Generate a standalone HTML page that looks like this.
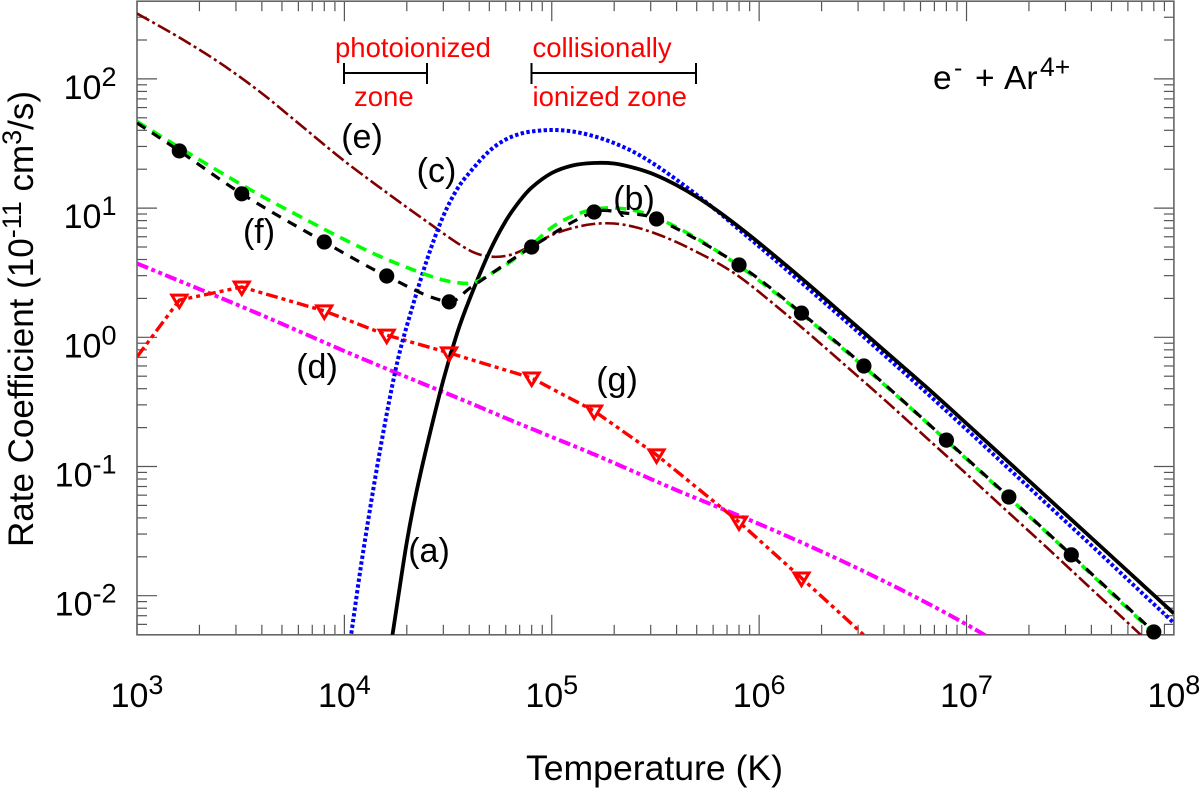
<!DOCTYPE html>
<html>
<head>
<meta charset="utf-8">
<title>Rate coefficient chart</title>
<style>
html,body{margin:0;padding:0;background:#fff;}
svg{display:block;font-family:"Liberation Sans",sans-serif;}
</style>
</head>
<body>
<svg id="chart" xmlns="http://www.w3.org/2000/svg" width="1200" height="789" viewBox="0 0 1200 789">
  <defs>
    <clipPath id="plot-clip"><rect x="137" y="1.2" width="1036.9" height="633.6"></rect></clipPath>
  </defs>
  <rect x="0" y="0" width="1200" height="789" fill="#ffffff"></rect>
  <g id="ticks"></g>
  <rect x="137" y="1.2" width="1036.9" height="633.6" fill="none" stroke="#666" stroke-width="1.6"></rect>
  <g id="series" clip-path="url(#plot-clip)" fill="none"></g>
  <g id="markers"></g>
  <g id="tick-labels" fill="#000"></g>

  <text x="654.5" y="780" font-size="35.6" text-anchor="middle" fill="#000">Temperature (K)</text>
  <text transform="translate(33,547) rotate(-90)" font-size="35" fill="#000"><tspan>Rate Coefficient (10</tspan><tspan font-size="27" dy="-12">-11</tspan><tspan dy="12"> cm</tspan><tspan font-size="27" dy="-12">3</tspan><tspan dy="12">/s)</tspan></text>

  <text x="429" y="562" font-size="34" text-anchor="middle">(a)</text>
  <text x="634" y="210" font-size="34" text-anchor="middle">(b)</text>
  <text x="436.5" y="182" font-size="34" text-anchor="middle">(c)</text>
  <text x="317" y="378" font-size="34" text-anchor="middle">(d)</text>
  <text x="362" y="148" font-size="34" text-anchor="middle">(e)</text>
  <text x="259" y="243" font-size="34" text-anchor="middle">(f)</text>
  <text x="617" y="391" font-size="34" text-anchor="middle">(g)</text>

  <text x="335" y="57" font-size="27.5" fill="#ff0000">photoionized</text>
  <text x="354" y="106" font-size="27.5" fill="#ff0000">zone</text>
  <text x="532.5" y="57" font-size="27.5" fill="#ff0000">collisionally</text>
  <text x="532.5" y="106" font-size="27.5" fill="#ff0000">ionized zone</text>

  <g stroke="#000" stroke-width="2" fill="none">
    <line x1="344" y1="73" x2="427" y2="73"></line>
    <line x1="344" y1="63" x2="344" y2="84"></line>
    <line x1="427" y1="63" x2="427" y2="84"></line>
  </g>
  <g stroke="#000" stroke-width="2" fill="none">
    <line x1="531.5" y1="73" x2="696" y2="73"></line>
    <line x1="531.5" y1="63" x2="531.5" y2="84"></line>
    <line x1="696" y1="63" x2="696" y2="84"></line>
  </g>

  <g fill="#000">
    <text x="933" y="89" font-size="33.5">e</text>
    <text x="954" y="76" font-size="25">-</text>
    <text x="975" y="89" font-size="33.5">+</text>
    <text x="1004" y="89" font-size="33.5">Ar</text>
    <text x="1040" y="76" font-size="26.5">4+</text>
  </g>
</svg>

<script>
// ---- axis data ----
var xTickValues = [1e3, 1e4, 1e5, 1e6, 1e7, 1e8];
var xTickExponents = ['3', '4', '5', '6', '7', '8'];
var yTickValues = [1e-2, 1e-1, 1, 10, 100];
var yTickExponents = ['-2', '-1', '0', '1', '2'];
var minorMultipliers = [2, 3, 4, 5, 6, 7, 8, 9];
var yDomain = [5e-3, 400];
var xDomain = [1e3, 1e8];

// ---- series data: temperature (K) and rate coefficient (1e-11 cm^3/s) ----
var tempsA = [1.7e4, 1.8e4, 2e4, 2.2e4, 2.5e4, 3e4, 3.5e4, 4e4, 5e4, 6e4, 7e4, 8e4, 1e5, 1.259e5, 1.585e5, 1.995e5, 2.512e5, 3.162e5, 3.981e5, 5.012e5, 6.31e5, 7.943e5, 1e6, 1.585e6, 2.512e6, 3.981e6, 6.31e6, 1e7, 1.585e7, 2.512e7, 3.981e7, 6.31e7, 1e8];
var ratesA = [0.00479, 0.00878, 0.026, 0.0581, 0.1441, 0.467, 1.08, 1.944, 4.57, 7.95, 11.35, 14.43, 18.69, 21.37, 22.34, 22.14, 20.43, 18.04, 15.1, 12.19, 9.5, 7.2, 5.37, 2.9, 1.528, 0.8, 0.42, 0.2152, 0.1093, 0.0555, 0.0282, 0.01433, 0.00728];

var tempsB = [1e3, 1.585e3, 2.512e3, 3.981e3, 6.31e3, 1e4, 1.585e4, 2.512e4, 3.13e4, 3.981e4, 4.467e4, 5.012e4, 6.31e4, 7.943e4, 1e5, 1.259e5, 1.585e5, 1.995e5, 2.512e5, 3.162e5, 3.981e5, 5.012e5, 6.31e5, 7.943e5, 1e6, 1.585e6, 2.512e6, 3.981e6, 6.31e6, 1e7, 1.585e7, 2.512e7, 3.981e7, 6.31e7, 1e8];
var ratesB = [46.8, 29.7, 19.03, 12.41, 8.38, 5.71, 4.04, 3.03, 2.73, 2.61, 2.75, 3.06, 3.83, 5.13, 7.08, 8.69, 9.75, 10.02, 9.58, 8.46, 7.14, 5.82, 4.61, 3.6, 2.75, 1.542, 0.826, 0.435, 0.225, 0.1143, 0.0581, 0.0295, 0.01472, 0.00735, 0.00367];

var tempsC = [1.05e4, 1.1e4, 1.2e4, 1.4e4, 1.6e4, 1.8e4, 2e4, 2.5e4, 3e4, 3.5e4, 4e4, 5e4, 6e4, 7e4, 8e4, 1e5, 1.259e5, 1.585e5, 1.995e5, 2.512e5, 3.162e5, 3.981e5, 5.012e5, 6.31e5, 7.943e5, 1e6, 1.585e6, 2.512e6, 3.981e6, 6.31e6, 1e7, 1.585e7, 2.512e7, 3.981e7, 6.31e7, 1e8];
var ratesC = [0.00374, 0.00626, 0.01668, 0.0772, 0.2549, 0.6439, 1.223, 3.966, 8.69, 14.06, 18.69, 27.67, 33.96, 37.46, 39.17, 40.22, 39.17, 36.15, 31.9, 26.94, 21.56, 16.65, 12.63, 9.41, 6.89, 5.05, 2.68, 1.41, 0.736, 0.3805, 0.1934, 0.0974, 0.049, 0.0247, 0.01232, 0.00615];

var tempsD = [1e3, 1.585e3, 2.512e3, 3.981e3, 6.31e3, 1e4, 1.585e4, 2.512e4, 3.981e4, 6.31e4, 1e5, 1.585e5, 2.512e5, 3.981e5, 6.31e5, 1e6, 1.585e6, 2.512e6, 3.981e6, 6.31e6, 1e7, 1.585e7];
var ratesD = [3.73, 2.75, 2.03, 1.488, 1.08, 0.783, 0.5735, 0.4236, 0.313, 0.229, 0.1692, 0.125, 0.0907, 0.0658, 0.0486, 0.0359, 0.026, 0.01856, 0.013, 0.00894, 0.00599, 0.00387];

var tempsE = [1e3, 1.585e3, 2.512e3, 3.981e3, 6.31e3, 1e4, 1.585e4, 2.512e4, 3.981e4, 5.012e4, 6.31e4, 7.943e4, 1e5, 1.259e5, 1.585e5, 1.995e5, 2.512e5, 3.162e5, 3.981e5, 5.012e5, 6.31e5, 7.943e5, 1e6, 1.585e6, 2.512e6, 3.981e6, 6.31e6, 1e7, 1.585e7, 2.512e7, 3.981e7, 6.31e7, 1e8];
var ratesE = [320.8, 211, 132.8, 77.8, 42.4, 23.15, 13.33, 7.81, 4.74, 4.22, 4.34, 5.09, 6.19, 7.01, 7.53, 7.6, 7.14, 6.36, 5.47, 4.57, 3.76, 2.98, 2.24, 1.212, 0.638, 0.333, 0.1707, 0.0875, 0.0444, 0.0226, 0.01136, 0.00572, 0.00286];

var tempsF = [1e3, 1.6e3, 3.2e3, 8e3, 1.6e4, 3.2e4, 4.04e4, 8e4, 1.6e5, 2.24e5, 3.2e5, 8e5, 1.6e6, 3.2e6, 8e6, 1.6e7, 3.2e7, 8e7, 1e8];
var ratesF = [45.6, 27.7, 12.9, 5.47, 2.98, 1.88, 2.41, 5.0, 9.33, 9.16, 8.24, 3.63, 1.54, 0.6, 0.16, 0.0581, 0.0207, 0.00524, 0.00366];
var circleTemps = [1.6e3, 3.2e3, 8e3, 1.6e4, 3.2e4, 8e4, 1.6e5, 3.2e5, 8e5, 1.6e6, 3.2e6, 8e6, 1.6e7, 3.2e7, 8e7];
var circleRates = [27.7, 12.9, 5.47, 2.98, 1.88, 5.0, 9.33, 8.24, 3.63, 1.54, 0.6, 0.16, 0.0581, 0.0207, 0.00524];

var tempsG = [1e3, 1.6e3, 3.2e3, 8e3, 1.6e4, 3.2e4, 8e4, 1.6e5, 3.2e5, 8e5, 1.6e6, 3.98e6];
var ratesG = [0.705, 1.94, 2.45, 1.6, 1.04, 0.757, 0.484, 0.269, 0.123, 0.0372, 0.0137, 0.0036];
var triangleTemps = [1.6e3, 3.2e3, 8e3, 1.6e4, 3.2e4, 8e4, 1.6e5, 3.2e5, 8e5, 1.6e6];
var triangleRates = [1.94, 2.45, 1.6, 1.04, 0.757, 0.484, 0.269, 0.123, 0.0372, 0.0137];

// ---- scales ----
var NS = 'http://www.w3.org/2000/svg';
function xScale(t) { return 137 + (Math.log10(t) - 3) * 207.38; }
function yScale(v) { return 337.3 - Math.log10(v) * 129.2; }

function smoothPath(temps, rates) {
  var p = temps.map(function (t, i) { return [xScale(t), yScale(rates[i])]; });
  var d = 'M' + p[0][0].toFixed(2) + ' ' + p[0][1].toFixed(2);
  for (var i = 0; i < p.length - 1; i++) {
    var p0 = p[Math.max(i - 1, 0)], p1 = p[i], p2 = p[i + 1], p3 = p[Math.min(i + 2, p.length - 1)];
    var dx = p2[0] - p1[0];
    var m1 = (p2[1] - p0[1]) / (p2[0] - p0[0]);
    var m2 = (p3[1] - p1[1]) / (p3[0] - p1[0]);
    d += 'C' + (p1[0] + dx / 3).toFixed(2) + ' ' + (p1[1] + m1 * dx / 3).toFixed(2) + ' ' +
         (p2[0] - dx / 3).toFixed(2) + ' ' + (p2[1] - m2 * dx / 3).toFixed(2) + ' ' +
         p2[0].toFixed(2) + ' ' + p2[1].toFixed(2);
  }
  return d;
}
function straightPath(temps, rates) {
  return temps.map(function (t, i) {
    return (i ? 'L' : 'M') + xScale(t).toFixed(2) + ' ' + yScale(rates[i]).toFixed(2);
  }).join('');
}

// ---- ticks ----
var tickGroup = document.getElementById('ticks');
function addTick(x1, y1, x2, y2, width) {
  var ln = document.createElementNS(NS, 'line');
  
  
  ln.setAttribute('x1', x1);
  ln.setAttribute('y1', y1);
  ln.setAttribute('x2', x2);
  ln.setAttribute('y2', y2);
  ln.setAttribute('stroke', '#555');
  ln.setAttribute('stroke-width', width);
  tickGroup.appendChild(ln);
}
function xTick(t, len) {
  var x = xScale(t);
  addTick(x, 634.8, x, 634.8 - len, 1.2);
  addTick(x, 1.2, x, 1.2 + len, 1.2);
}
function yTick(v, len) {
  var y = yScale(v);
  addTick(137, y, 137 + len, y, 1.2);
  addTick(1173.9, y, 1173.9 - len, y, 1.2);
}
xTickValues.forEach(function (t) {
  xTick(t, 20);
  minorMultipliers.forEach(function (m) {
    if (t * m < xDomain[1]) xTick(t * m, 10);
  });
});
[1e-3].concat(yTickValues).forEach(function (v) {
  if (v >= yDomain[0]) yTick(v, 20);
  minorMultipliers.forEach(function (m) {
    if (v * m >= yDomain[0] && v * m < yDomain[1]) yTick(v * m, 10);
  });
});

// ---- tick labels ----
var labelGroup = document.getElementById('tick-labels');
function addPowerLabel(name, anchorX, baseY, exponent, anchor) {
  var t = document.createElementNS(NS, 'text');
  
  
  t.setAttribute('x', anchorX);
  t.setAttribute('y', baseY);
  t.setAttribute('font-size', '34');
  t.setAttribute('text-anchor', anchor);
  var a = document.createElementNS(NS, 'tspan');
  a.textContent = '10';
  var b = document.createElementNS(NS, 'tspan');
  b.setAttribute('font-size', '27');
  b.setAttribute('dy', '-13');
  b.textContent = exponent;
  t.appendChild(a);
  t.appendChild(b);
  labelGroup.appendChild(t);
}
xTickValues.forEach(function (t, i) {
  addPowerLabel('x-tick-label', xScale(t), 707, xTickExponents[i], 'middle');
});
yTickValues.forEach(function (v, i) {
  addPowerLabel('y-tick-label', 116.5, yScale(v) + 20, yTickExponents[i], 'end');
});

// ---- series ----
var seriesGroup = document.getElementById('series');
function addLine(name, pathData, color, width, dash) {
  var path = document.createElementNS(NS, 'path');
  
  
  path.setAttribute('d', pathData);
  path.setAttribute('stroke', color);
  path.setAttribute('stroke-width', width);
  if (dash) path.setAttribute('stroke-dasharray', dash);
  seriesGroup.appendChild(path);
}
addLine('curve-e', smoothPath(tempsE, ratesE), '#800000', 2.6, '14 3.5 3 3.5');
addLine('curve-d', smoothPath(tempsD, ratesD), '#ff00ff', 4, '12 3.5 4 3.5 4 3.5');
addLine('curve-g', straightPath(tempsG, ratesG), '#ff0000', 3.4, '12 4 4 4 4 4');
addLine('curve-c', smoothPath(tempsC, ratesC), '#0000ff', 4, '3.4 2.4');
addLine('curve-a', smoothPath(tempsA, ratesA), '#000000', 3.8, null);
addLine('curve-b', smoothPath(tempsB, ratesB), '#00ff00', 3.6, '11 7');
addLine('curve-f', smoothPath(tempsF, ratesF), '#000000', 3.2, '10 8');

// ---- markers ----
var markerGroup = document.getElementById('markers');
circleTemps.forEach(function (t, i) {
  var c = document.createElementNS(NS, 'circle');
  
  
  c.setAttribute('cx', xScale(t));
  c.setAttribute('cy', yScale(circleRates[i]));
  c.setAttribute('r', '7.6');
  c.setAttribute('fill', '#000');
  markerGroup.appendChild(c);
});
triangleTemps.forEach(function (t, i) {
  var x = xScale(t), y = yScale(triangleRates[i]);
  var m = document.createElementNS(NS, 'polygon');
  
  
  m.setAttribute('points', (x - 7.5) + ',' + (y - 5) + ' ' + (x + 7.5) + ',' + (y - 5) + ' ' + x + ',' + (y + 7.5));
  m.setAttribute('fill', 'none');
  m.setAttribute('stroke', '#ff0000');
  m.setAttribute('stroke-width', '3');
  markerGroup.appendChild(m);
});
</script>
</body>
</html>
